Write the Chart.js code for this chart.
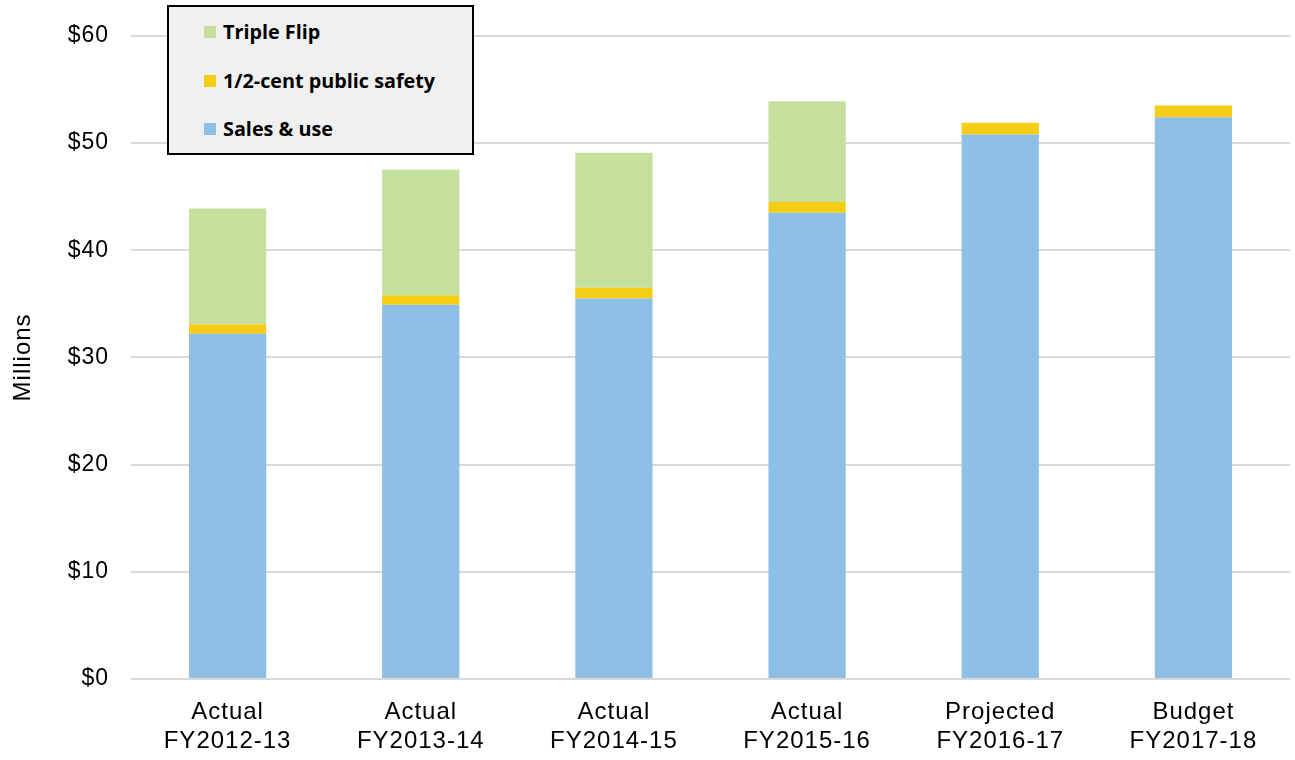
<!DOCTYPE html>
<html><head><meta charset="utf-8">
<script src="https://cdn.jsdelivr.net/npm/chart.js@4/dist/chart.umd.min.js"></script>
<style>
html,body{margin:0;padding:0;background:#fff;}
#wrap{position:relative;width:1295px;height:760px;}
#legend{position:absolute;left:167px;top:5px;width:303px;height:146px;background:#f0f0f0;border:2px solid #000;box-sizing:content-box;font-family:"Open Sans",Lato,sans-serif;font-weight:bold;font-size:19.8px;color:#000;}
.li{position:absolute;left:35px;display:flex;align-items:center;}
.sw{width:12px;height:12px;margin-right:7px;}
</style></head>
<body><div id="wrap"><canvas id="c" width="1295" height="760"></canvas><div id="legend"></div></div>
<script>
const categories = [["Actual","FY2012-13"],["Actual","FY2013-14"],["Actual","FY2014-15"],["Actual","FY2015-16"],["Projected","FY2016-17"],["Budget","FY2017-18"]];
const salesUse = [32.2, 34.9, 35.5, 43.5, 50.8, 52.4];
const publicSafety = [0.9, 0.9, 1.0, 1.0, 1.1, 1.1];
const tripleFlip = [10.8, 11.7, 12.6, 9.4, null, null];
const seriesNames = ["Sales & use", "1/2-cent public safety", "Triple Flip"];
const seriesColors = ["#8dbfe7", "#f5cd15", "#c5df9d"];
const yTicks = [0, 10, 20, 30, 40, 50, 60];

const data = {
  labels: categories,
  datasets: [salesUse, publicSafety, tripleFlip].map((d, i) => ({
    label: seriesNames[i], data: d, backgroundColor: seriesColors[i],
    borderWidth: 0,
    barPercentage: 0.4, categoryPercentage: 1.0
  }))
};

const spacingPlugin = {
  id: "spacing",
  beforeInit(chart) { chart.ctx.letterSpacing = "1px"; },
  beforeDraw(chart) { chart.ctx.letterSpacing = "1px"; }
};

new Chart(document.getElementById("c"), {
  type: "bar",
  data: data,
  plugins: [spacingPlugin],
  options: {
    responsive: false, animation: false,
    layout: { padding: { top: 33, right: 5, left: 0, bottom: 0 } },
    plugins: { legend: { display: false }, tooltip: { enabled: false } },
    scales: {
      x: {
        stacked: true,
        grid: { display: false },
        border: { display: false },
        afterFit: (ax) => { ax.height = 81; },
        ticks: { color: "#000", font: { family: "Liberation Sans", size: 24, lineHeight: 1.2 }, padding: 11, maxRotation: 0 }
      },
      y: {
        stacked: true, min: 0, max: 60,
        afterBuildTicks: (ax) => { ax.ticks = yTicks.map(v => ({ value: v })); },
        afterFit: (ax) => { ax.width = 131; },
        grid: { color: "#d9d9d9", lineWidth: 2, drawTicks: false },
        border: { display: false },
        ticks: { color: "#000", font: { family: "Liberation Sans", size: 23 }, padding: 22, callback: v => "$" + v },
        title: { display: true, text: "Millions", color: "#000", font: { family: "Liberation Sans", size: 24 }, padding: { top: 9, bottom: 0 } }
      }
    }
  }
});

const lg = document.getElementById("legend");
const order = [2, 1, 0];
const tops = [11, 60, 108];
order.forEach((idx, k) => {
  const d = document.createElement("div");
  d.className = "li"; d.style.top = tops[k] + "px";
  d.innerHTML = '<span class="sw" style="background:' + seriesColors[idx] + '"></span><span></span>';
  d.lastChild.textContent = seriesNames[idx];
  lg.appendChild(d);
});
</script></body></html>
